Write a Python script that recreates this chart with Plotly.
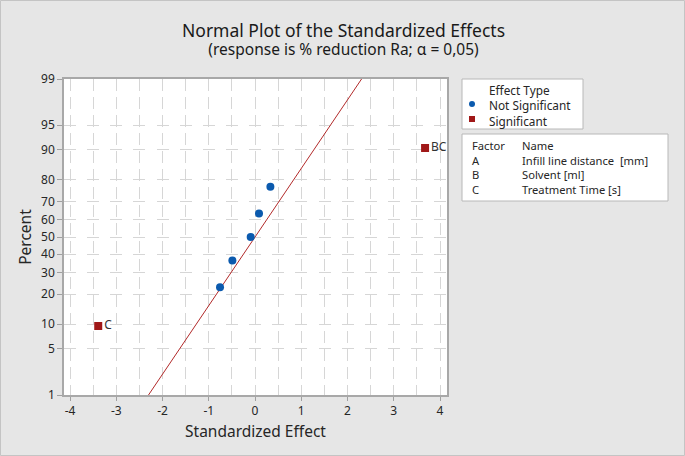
import plotly.graph_objects as go
from statistics import NormalDist

# ---------------- data ----------------
ns_effects = [-0.757, -0.49, -0.094, 0.086, 0.332]      # not significant
ns_percent = [23.0, 36.5, 50.0, 63.5, 77.0]
sig_labels = ["C", "BC"]
sig_effects = [-3.39, 3.676]
sig_percent = [9.5, 90.5]
line_sigma = 0.99          # slope of the reference line (effect per normal score)
y_tick_percent = [1, 5, 10, 20, 30, 40, 50, 60, 70, 80, 90, 95, 99]
x_ticks = [-4, -3, -2, -1, 0, 1, 2, 3, 4]
factors = ["A", "B", "C"]
factor_names = ["Infill line distance  [mm]", "Solvent [ml]", "Treatment Time [s]"]

nd = NormalDist()
z = lambda p: nd.inv_cdf(p / 100.0)

FONT = "Noto Sans"
TXT = "#262626"
GRID = "#D6D6D6"
BLUE = "#0B5AAE"
RED = "#A01818"

# plot area in pixels
W, H = 685, 456
L, R, T, B = 64, 447, 79, 395
pw, ph = R - L, B - T


def px(xp):
    return (xp - L) / pw


def py(yp):
    return (B - yp) / ph


fig = go.Figure()

# reference line
zl = [z(0.5), z(99.5)]
fig.add_trace(go.Scatter(x=[line_sigma * v for v in zl], y=zl, mode="lines",
                         line=dict(color="#B22A2A", width=1), hoverinfo="skip",
                         showlegend=False))

fig.add_trace(go.Scatter(x=ns_effects, y=[z(p) for p in ns_percent], mode="markers",
                         marker=dict(color=BLUE, size=8, symbol="circle"),
                         showlegend=False))

fig.add_trace(go.Scatter(x=sig_effects, y=[z(p) for p in sig_percent], mode="markers+text",
                         text=sig_labels, textposition="middle right",
                         textfont=dict(family=FONT, size=12, color="#333333"),
                         marker=dict(color=RED, size=8, symbol="square"),
                         showlegend=False, cliponaxis=False))

x_range = [-4.13, 4.15]
fig.update_xaxes(range=x_range, tickvals=x_ticks, ticktext=[str(v) for v in x_ticks],
                 ticks="outside", ticklen=4, tickcolor="#A0A0A0",
                 showgrid=True, gridcolor=GRID, gridwidth=1, griddash="12px,6px",
                 minor=dict(dtick=0.5, tick0=0, showgrid=True, gridcolor=GRID,
                            griddash="12px,6px"),
                 showline=True, linecolor="#A8A8A8", linewidth=1.5, mirror=True,
                 zeroline=False,
                 tickfont=dict(family=FONT, size=12, color=TXT),
                 title=dict(text="Standardized Effect", standoff=8,
                            font=dict(family=FONT, size=15.5, color=TXT)))

unit = pw / (x_range[1] - x_range[0])
period = unit * 0.5
off = (-4 - x_range[0]) * unit
dash_len = 12
first_gap = max(off - dash_len / 2, 0)
hdash = f"0px,{first_gap:.2f}px,{dash_len}px,{period - dash_len:.2f}px"

fig.update_yaxes(range=[z(1), z(99)], tickvals=[z(p) for p in y_tick_percent],
                 ticktext=[str(p) for p in y_tick_percent],
                 ticks="outside", ticklen=5, tickcolor="#A0A0A0",
                 showgrid=True, gridcolor=GRID, gridwidth=1, griddash=hdash,
                 showline=True, linecolor="#A8A8A8", linewidth=1.5, mirror=True,
                 zeroline=False,
                 tickfont=dict(family=FONT, size=12, color=TXT),
                 title=dict(text="Percent", standoff=6,
                            font=dict(family=FONT, size=15.5, color=TXT)))

shapes = []
annotations = []

# outer border
shapes.append(dict(type="rect", xref="paper", yref="paper",
                   x0=px(0.5), x1=px(W - 0.5), y0=py(H - 0.5), y1=py(0.5),
                   line=dict(color="#C4C4C4", width=1), layer="below"))

# titles (one two-line text)
annotations.append(dict(
    text="<span style='font-size:17.5px'>Normal Plot of the Standardized Effects</span><br>"
         "<span style='font-size:15.5px'>(response is % reduction Ra; α = 0,05)</span>",
    x=px(343.5), y=py(39), xref="paper", yref="paper", showarrow=False,
    xanchor="center", yanchor="middle", align="center", borderpad=0,
    font=dict(family=FONT, size=14, color="#1A1A1A")))

# legend box 1
shapes.append(dict(type="rect", xref="paper", yref="paper",
                   x0=px(462), x1=px(583), y0=py(129), y1=py(79),
                   line=dict(color="#B8B8B8", width=1), fillcolor="white"))


def block(lines, x, ytop, size=11.5):
    annotations.append(dict(text="<br>".join(lines), x=px(x), y=py(ytop), xref="paper", yref="paper",
                            showarrow=False, xanchor="left", yanchor="top", align="left",
                            borderpad=0,
                            font=dict(family=FONT, size=size, color=TXT)))


block(["Effect Type", "Not Significant", "Significant"], 488, 81, size=11.8)
shapes.append(dict(type="circle", xref="paper", yref="paper",
                   x0=px(469), x1=px(475), y0=py(107), y1=py(101),
                   fillcolor=BLUE, line=dict(color=BLUE, width=0)))
shapes.append(dict(type="rect", xref="paper", yref="paper",
                   x0=px(469), x1=px(475), y0=py(122), y1=py(116),
                   fillcolor=RED, line=dict(color=RED, width=0)))

# legend box 2
shapes.append(dict(type="rect", xref="paper", yref="paper",
                   x0=px(462), x1=px(668), y0=py(201), y1=py(134),
                   line=dict(color="#B8B8B8", width=1), fillcolor="white"))
block(["Factor"] + factors, 471, 137, size=11.2)
block(["Name"] + factor_names, 521, 137, size=11.2)

fig.update_layout(width=W, height=H, margin=dict(l=L, r=W - R, t=T, b=H - B),
                  paper_bgcolor="#E6E6E6", plot_bgcolor="white",
                  shapes=shapes, annotations=annotations, showlegend=False,
                  font=dict(family=FONT, color=TXT))

fig.write_html("out.html", config={"displayModeBar": False},
               post_script="document.body.style.margin='0px';")
